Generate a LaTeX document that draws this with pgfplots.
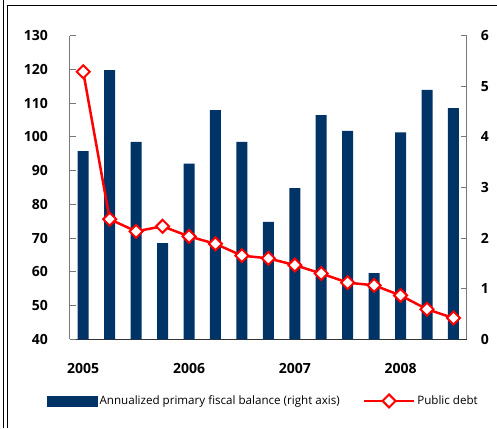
\documentclass[border=0pt]{standalone}
\usepackage{fontspec}
\setmainfont{Open Sans}
\usepackage{pgfplots}
\pgfplotsset{compat=1.18}
\definecolor{navy}{RGB}{0,51,102}
\definecolor{axgray}{RGB}{120,120,120}
\begin{document}
\begin{tikzpicture}
\useasboundingbox (-70pt,-88.7pt) rectangle (427pt,339.3pt);
% frame lines
\draw[line width=1pt] (-66.7pt,-88.7pt) -- (-66.7pt,339.3pt);
\draw[line width=1pt] (-62pt,-88.7pt) -- (-62pt,333.3pt) -- (427pt,333.3pt);
% bars, right axis
\begin{axis}[
    scale only axis, width=396.7pt, height=303.6pt,
    xmin=-0.5, xmax=14.5, ymin=0, ymax=6,
    axis y line*=right, axis x line*=bottom,
    y axis line style={axgray, line width=1pt},
    x axis line style={black!80, line width=1.2pt},
    tick align=inside,
    ytick={0,1,...,6},
    major tick length=6pt,
    ytick style={axgray, line width=1pt},
    xtick={0,4,8,12},
    xticklabels={2005,2006,2007,2008},
    xtick style={draw=none},
    minor xtick={3.5,7.5,11.5},
    minor tick length=5pt,
    minor x tick style={black!70, line width=1pt},
    every tick label/.append style={font=\fontsize{14}{16}\selectfont\bfseries},
    /pgf/number format/assume math mode=true,
    yticklabel style={inner sep=0pt, anchor=west, xshift=14pt},
    xticklabel style={inner sep=0pt, anchor=north, yshift=-24pt},
]
\addplot[ybar, bar width=11pt, bar shift=0pt, fill=navy, draw=none] coordinates {
    (0,3.72) (1,5.32) (2,3.90) (3,1.90) (4,3.47) (5,4.53) (6,3.90) (7,2.32)
    (8,2.99) (9,4.43) (10,4.12) (11,1.31) (12,4.09) (13,4.93) (14,4.57)
};
\end{axis}
% public debt, left axis
\begin{axis}[
    scale only axis, width=396.7pt, height=303.6pt,
    xmin=-0.5, xmax=14.5, ymin=40, ymax=130,
    axis y line*=left, axis x line=none,
    y axis line style={axgray, line width=1pt},
    tick align=inside,
    ytick={40,50,...,130},
    major tick length=6pt,
    ytick style={axgray, line width=1pt},
    every tick label/.append style={font=\fontsize{14}{16}\selectfont\bfseries},
    /pgf/number format/assume math mode=true,
    yticklabel style={inner sep=0pt, anchor=east, xshift=-22pt},
    legend columns=2,
    legend cell align=left,
    legend style={draw=none, fill=none, inner sep=0pt,
        at={(-0.058,-0.203)}, anchor=west,
        font=\fontsize{11.6}{13}\selectfont,
        /tikz/every even column/.append style={column sep=21pt}},
]
\addlegendimage{legend image code/.code={\fill[navy] (0pt,-5pt) rectangle (50pt,5pt);}}
\addlegendentry{Annualized primary fiscal balance (right axis)}
\addplot[red, line width=2.5pt, mark=square*, mark size=4.6pt,
    mark options={rotate=45, fill=white, draw=red, line width=2pt},
    legend image code/.code={
        \draw[red, line width=2.5pt] (0pt,0pt) -- (50pt,0pt);
        \draw[red, line width=2pt, fill=white, rotate around={45:(25pt,0pt)}]
            (20.4pt,-4.6pt) rectangle (29.6pt,4.6pt);}]
 coordinates {
    (0,119.3) (1,75.6) (2,72.0) (3,73.5) (4,70.5) (5,68.3) (6,64.8) (7,64.0)
    (8,62.0) (9,59.5) (10,56.8) (11,56.0) (12,53.0) (13,48.9) (14,46.3)
};
\addlegendentry{Public debt}
\end{axis}
\end{tikzpicture}
\end{document}
